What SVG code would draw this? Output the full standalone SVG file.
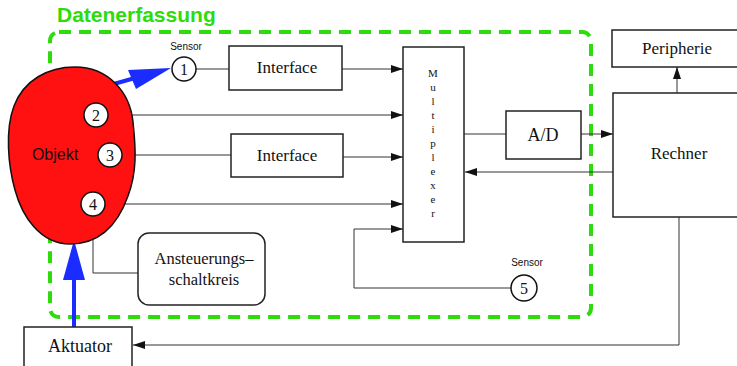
<svg xmlns="http://www.w3.org/2000/svg" width="737" height="366" viewBox="0 0 737 366">
  <style>
    .box { fill: #fff; stroke: #222; stroke-width: 1.5; }
    .wire { fill: none; stroke: #333; stroke-width: 1; }
    .num { fill: #fff; stroke: #111; stroke-width: 1.5; }
    .serif { font-family: 'Liberation Serif', 'DejaVu Serif', 'Times New Roman', serif; fill: #111; text-anchor: middle; }
    .sans { font-family: 'Liberation Sans', 'DejaVu Sans', Arial, sans-serif; fill: #111; text-anchor: middle; }
    .blue { stroke: #1a2cff; stroke-width: 4; fill: none; }
  </style>
  <defs>
    <marker id="ah" markerWidth="12" markerHeight="8" refX="12" refY="4" orient="auto" markerUnits="userSpaceOnUse">
      <path d="M0,0 L12,4 L0,8 Z" fill="#111"/>
    </marker>
  </defs>

  <!-- data acquisition boundary -->
  <g id="datenerfassung">
    <rect x="50" y="32" width="541" height="285" rx="9" fill="none" stroke="#2edc0c" stroke-width="4" stroke-dasharray="12 8"/>
    <text x="57" y="22" font-family="'Liberation Sans', Arial, sans-serif" font-weight="bold" font-size="21" fill="#2edc0c">Datenerfassung</text>
  </g>

  <!-- connectors -->
  <g id="connectors">
    <line class="wire" x1="196" y1="69" x2="229" y2="69"/>
    <line class="wire" x1="342" y1="69" x2="403" y2="69" marker-end="url(#ah)"/>
    <line class="wire" x1="108" y1="115" x2="403" y2="115" marker-end="url(#ah)"/>
    <line class="wire" x1="122" y1="155" x2="231" y2="155"/>
    <line class="wire" x1="343" y1="157" x2="403" y2="157" marker-end="url(#ah)"/>
    <line class="wire" x1="105" y1="204" x2="403" y2="204" marker-end="url(#ah)"/>
    <polyline class="wire" points="93,216 93,273 138,273"/>
    <polyline class="wire" points="511,288 354,288 354,229 403,229" marker-end="url(#ah)"/>
    <line class="wire" x1="464" y1="134" x2="506" y2="134"/>
    <line class="wire" x1="581" y1="134" x2="613" y2="134" marker-end="url(#ah)"/>
    <line class="wire" x1="613" y1="172" x2="465" y2="172" marker-end="url(#ah)"/>
    <line class="wire" x1="677" y1="93" x2="677" y2="67" marker-end="url(#ah)"/>
    <polyline class="wire" points="679,217 679,345 133,345" marker-end="url(#ah)"/>
    <!-- blue actuation / sensing arrows -->
    <line class="blue" x1="103" y1="87" x2="135" y2="78"/>
    <path d="M171,68 L128,70 L136,89 Z" fill="#1a2cff"/>
    <line class="blue" x1="74" y1="327" x2="74" y2="275"/>
    <path d="M74,240 L63,280 L85,280 Z" fill="#1a2cff"/>
  </g>

  <!-- measured object -->
  <g id="objekt">
    <path d="M75,67 C108,67 130,92 133,122 C136,150 137,172 128,196 C118,224 100,244 70,244 C40,244 22,216 15,190 C8,165 5,130 14,106 C24,80 48,67 75,67 Z" fill="#ff1111" stroke="#111" stroke-width="1.5"/>
    <text class="sans" x="55" y="160" font-size="16">Objekt</text>
  </g>

  <g id="sensor1">
    <circle class="num" cx="184" cy="69" r="12"/>
    <text class="serif" x="184" y="75" font-size="16">1</text>
    <text class="sans" x="186" y="50" font-size="10">Sensor</text>
  </g>
  <g id="sensor2">
    <circle class="num" cx="96" cy="115" r="12"/>
    <text class="serif" x="96" y="121" font-size="16">2</text>
  </g>
  <g id="sensor3">
    <circle class="num" cx="110" cy="155" r="12"/>
    <text class="serif" x="110" y="161" font-size="16">3</text>
  </g>
  <g id="sensor4">
    <circle class="num" cx="93" cy="204" r="12"/>
    <text class="serif" x="93" y="210" font-size="16">4</text>
  </g>
  <g id="sensor5">
    <circle class="num" cx="524" cy="288" r="13"/>
    <text class="serif" x="524" y="294" font-size="16">5</text>
    <text class="sans" x="527" y="266" font-size="10">Sensor</text>
  </g>

  <g id="interface1">
    <rect class="box" x="229" y="46" width="113" height="44"/>
    <text class="serif" x="287" y="73" font-size="17">Interface</text>
  </g>
  <g id="interface2">
    <rect class="box" x="231" y="134" width="112" height="43"/>
    <text class="serif" x="287" y="161" font-size="17">Interface</text>
  </g>

  <g id="ansteuerung">
    <rect class="box" x="138" y="233" width="127" height="72" rx="11"/>
    <text class="serif" x="204" y="264" font-size="16.5">Ansteuerungs–</text>
    <text class="serif" x="204" y="285" font-size="16.5">schaltkreis</text>
  </g>

  <g id="multiplexer">
    <rect class="box" x="403" y="47" width="61" height="195"/>
    <g class="serif" font-size="11">
      <text x="433" y="77">M</text>
      <text x="433" y="91">u</text>
      <text x="433" y="105">l</text>
      <text x="433" y="119">t</text>
      <text x="433" y="133">i</text>
      <text x="433" y="147">p</text>
      <text x="433" y="161">l</text>
      <text x="433" y="175">e</text>
      <text x="433" y="189">x</text>
      <text x="433" y="203">e</text>
      <text x="433" y="217">r</text>
    </g>
  </g>

  <g id="ad">
    <rect class="box" x="506" y="111" width="75" height="48"/>
    <text class="serif" x="543" y="141" font-size="18">A/D</text>
  </g>

  <g id="rechner">
    <rect class="box" x="613" y="93" width="130" height="124"/>
    <text class="serif" x="679" y="159" font-size="17">Rechner</text>
  </g>

  <g id="peripherie">
    <rect class="box" x="612" y="30" width="130" height="37"/>
    <text class="serif" x="677" y="54" font-size="17">Peripherie</text>
  </g>

  <g id="aktuator">
    <rect class="box" x="24" y="327" width="108" height="45"/>
    <text class="serif" x="80" y="352" font-size="18">Aktuator</text>
  </g>
</svg>
